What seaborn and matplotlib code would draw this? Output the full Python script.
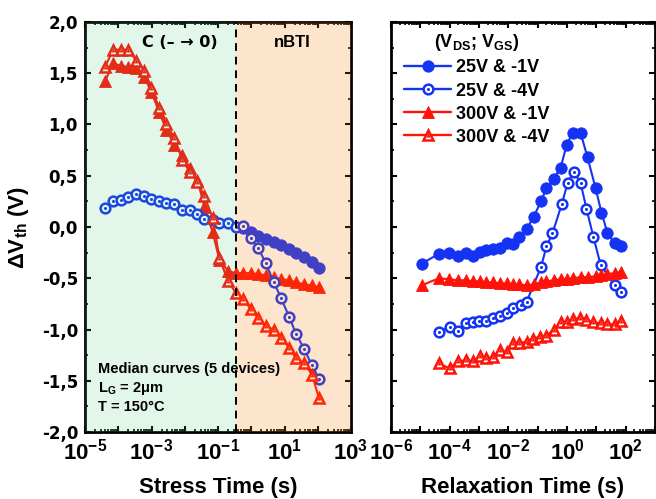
import numpy as np
import matplotlib
matplotlib.use("Agg")
import matplotlib.pyplot as plt
import seaborn as sns
from matplotlib.lines import Line2D
from matplotlib.ticker import (LogLocator, MultipleLocator, FuncFormatter,
                               NullFormatter)

sns.set_theme(style="ticks")
plt.rcParams["font.family"] = ["Liberation Sans", "DejaVu Sans"]
plt.rcParams["font.weight"] = "bold"
plt.rcParams["axes.labelweight"] = "bold"
plt.rcParams["mathtext.default"] = "regular"
plt.rcParams["axes.unicode_minus"] = False
for key in ["axes.edgecolor", "xtick.color", "ytick.color", "text.color",
            "axes.labelcolor"]:
    plt.rcParams[key] = "black"

# ---------------- stress phase (C(- -> 0) then nBTI) ----------------
stress_time = [4.0e-5, 7.0e-5, 1.2e-4, 2.0e-4, 3.5e-4, 6.1e-4, 9.9e-4, 1.7e-3,
               2.8e-3, 4.9e-3, 8.5e-3, 1.4e-2, 2.4e-2, 3.9e-2, 6.9e-2, 0.11,
               0.20, 0.34, 0.55, 0.97, 1.6, 2.7, 4.8, 7.8, 14, 22, 39, 67, 109]
stress_time_25v_1v = [0.55, 0.97, 1.6, 2.7, 4.8, 7.8, 14, 22, 39, 67, 109]

stress_25v_1v = [-0.01, -0.05, -0.09, -0.12, -0.15, -0.18, -0.21, -0.25,
                 -0.29, -0.34, -0.40]
stress_25v_4v = [0.19, 0.25, 0.26, 0.29, 0.32, 0.30, 0.27, 0.25, 0.23, 0.22,
                 0.17, 0.17, 0.13, 0.08, 0.07, 0.04, 0.04, 0.00, 0.01, -0.11,
                 -0.20, -0.35, -0.54, -0.69, -0.88, -1.04, -1.19, -1.35, -1.48]
stress_300v_1v = [1.42, 1.60, 1.57, 1.56, 1.55, 1.46, 1.32, 1.12, 0.95, 0.80,
                  0.70, 0.58, 0.46, 0.20, -0.05, -0.32, -0.43, -0.45, -0.45,
                  -0.45, -0.46, -0.47, -0.49, -0.51, -0.52, -0.54, -0.56,
                  -0.57, -0.59]
stress_300v_4v = [1.56, 1.73, 1.73, 1.73, 1.62, 1.52, 1.36, 1.16, 1.00, 0.87,
                  0.65, 0.54, 0.44, 0.30, 0.09, -0.30, -0.53, -0.64, -0.70,
                  -0.80, -0.89, -0.97, -1.00, -1.08, -1.18, -1.28, -1.33,
                  -1.44, -1.67]
phase_boundary = 0.35  # s, end of the C(- -> 0) phase

# ---------------- relaxation phase ----------------
relax_time = [1.1e-5, 4.3e-5, 9.4e-5, 1.9e-4, 3.6e-4, 6.2e-4, 1.1e-3, 1.8e-3,
              2.9e-3, 5.1e-3, 8.8e-3, 1.5e-2, 2.4e-2, 4.2e-2, 7.3e-2, 0.13,
              0.20, 0.35, 0.61, 0.97, 1.55, 2.9, 5.0, 9.4, 15, 24, 42, 72]
relax_time_25v_4v = [4.3e-5, 1.0e-4, 1.9e-4, 3.6e-4, 6.2e-4, 1.0e-3, 1.8e-3,
                     2.9e-3, 5.1e-3, 8.8e-3, 1.5e-2, 2.6e-2, 4.2e-2, 0.13,
                     0.20, 0.32, 0.66, 1.05, 1.7, 2.9, 4.6, 8.0, 14, 42, 72]
relax_time_300v_4v = [4.3e-5, 1.0e-4, 1.9e-4, 3.6e-4, 6.2e-4, 1.1e-3, 1.8e-3,
                      3.0e-3, 5.2e-3, 8.8e-3, 1.5e-2, 2.4e-2, 4.2e-2, 6.8e-2,
                      0.12, 0.20, 0.35, 0.61, 0.97, 1.55, 2.7, 4.6, 8.0, 14,
                      24, 42, 72]

relax_25v_1v = [-0.36, -0.26, -0.25, -0.28, -0.25, -0.28, -0.24, -0.22, -0.21,
                -0.20, -0.16, -0.17, -0.10, -0.02, 0.10, 0.25, 0.38, 0.47,
                0.58, 0.80, 0.92, 0.92, 0.68, 0.38, 0.14, -0.06, -0.16, -0.19]
relax_25v_4v = [-1.02, -0.98, -1.01, -0.94, -0.93, -0.92, -0.92, -0.89, -0.87,
                -0.84, -0.79, -0.76, -0.73, -0.39, -0.19, -0.06, 0.22, 0.43,
                0.54, 0.43, 0.18, -0.10, -0.37, -0.57, -0.63]
relax_300v_1v = [-0.57, -0.50, -0.51, -0.52, -0.52, -0.53, -0.53, -0.54, -0.54,
                 -0.55, -0.55, -0.56, -0.56, -0.57, -0.56, -0.54, -0.53, -0.52,
                 -0.51, -0.51, -0.50, -0.49, -0.49, -0.48, -0.47, -0.46,
                 -0.45, -0.44]
relax_300v_4v = [-1.33, -1.38, -1.31, -1.30, -1.31, -1.26, -1.28, -1.27, -1.20,
                 -1.22, -1.13, -1.13, -1.12, -1.09, -1.07, -1.06, -1.00, -0.93,
                 -0.93, -0.90, -0.89, -0.91, -0.93, -0.94, -0.95, -0.95,
                 -0.92]

series_labels = ["25V & -1V", "25V & -4V", "300V & -1V", "300V & -4V"]
BLUE = "#1433f5"
RED = "#ff1208"
LINE_W = 1.5
styles = [  # color, marker, filled, marker size
    (BLUE, "o", True, 8.2),
    (BLUE, "o", False, 7.0),
    (RED, "^", True, 8.8),
    (RED, "^", False, 7.6),
]


def draw_series(ax, t, v, style, z):
    color, marker, filled, ms = style
    sns.lineplot(x=t, y=v, ax=ax, color=color, linewidth=LINE_W, marker=marker,
                 markersize=ms,
                 markerfacecolor=color if filled else "white",
                 markeredgecolor=color, markeredgewidth=0.6 if filled else 1.8,
                 estimator=None, sort=False, legend=False, zorder=z)
    if not filled:
        sns.scatterplot(x=t, y=v, ax=ax, color=color, marker=marker,
                        s=5 if marker == "o" else 8, linewidth=0,
                        legend=False, zorder=z + 0.5)


fig = plt.figure(figsize=(6.56, 4.99), dpi=100)
ax1 = fig.add_axes([85 / 656, 67 / 499, 266 / 656, 410 / 499])
ax2 = fig.add_axes([391 / 656, 67 / 499, 264 / 656, 410 / 499])

# stress panel
draw_series(ax1, stress_time_25v_1v, stress_25v_1v, styles[0], 2)
draw_series(ax1, stress_time, stress_300v_1v, styles[2], 3)
draw_series(ax1, stress_time, stress_25v_4v, styles[1], 4)
draw_series(ax1, stress_time, stress_300v_4v, styles[3], 5)

ax1.axvspan(1e-5, phase_boundary, color=(62 / 255, 195 / 255, 115 / 255),
            alpha=0.15, lw=0, zorder=8)
ax1.axvspan(phase_boundary, 1e3, color=(245 / 255, 120 / 255, 0),
            alpha=0.2, lw=0, zorder=8)
ax1.axvline(phase_boundary, color="black", lw=1.4, ls=(0, (4, 3)), zorder=9)

ax1.text(0.357, 0.951, "C (– → 0)", transform=ax1.transAxes, ha="center",
         va="center", fontsize=11.5, fontweight="bold", zorder=10,
         family=["DejaVu Sans"])
ax1.text(0.778, 0.951, "nBTI", transform=ax1.transAxes, ha="center",
         va="center", fontsize=12, fontweight="bold", zorder=10)
for ty, txt in [(0.154, "Median curves (5 devices)"),
                (0.105, "L$_G$ = 2μm"),
                (0.061, "T = 150°C")]:
    ax1.text(0.049, ty, txt, transform=ax1.transAxes, ha="left", va="center",
             fontsize=10.5, fontweight="bold", zorder=10)

# relaxation panel
draw_series(ax2, relax_time, relax_25v_1v, styles[0], 2)
draw_series(ax2, relax_time_25v_4v, relax_25v_4v, styles[1], 3)
draw_series(ax2, relax_time, relax_300v_1v, styles[2], 4)
draw_series(ax2, relax_time_300v_4v, relax_300v_4v, styles[3], 5)


def decade_formatter(parity):
    def fmt(val, pos):
        e = int(round(np.log10(val)))
        return r"$10^{%d}$" % e if e % 2 == parity else ""
    return FuncFormatter(fmt)


for ax, xlim, parity, xlabel in [(ax1, (1e-5, 1e3), 1, "Stress Time (s)"),
                                 (ax2, (1e-6, 1e3), 0, "Relaxation Time (s)")]:
    ax.set_xscale("log")
    ax.set_xlim(*xlim)
    ax.set_ylim(-2, 2)
    ax.xaxis.set_major_locator(LogLocator(base=10, numticks=20))
    ax.xaxis.set_minor_locator(LogLocator(base=10, subs=np.arange(2, 10),
                                          numticks=20))
    ax.xaxis.set_major_formatter(decade_formatter(parity))
    ax.xaxis.set_minor_formatter(NullFormatter())
    ax.yaxis.set_major_locator(MultipleLocator(0.5))
    ax.yaxis.set_minor_locator(MultipleLocator(0.25))
    ax.tick_params(which="both", direction="in", top=True, right=True,
                   color="black")
    ax.tick_params(which="major", length=4.5, width=1.5, labelsize=16, pad=5)
    ax.tick_params(which="minor", length=2.5, width=1.2)
    for sp in ax.spines.values():
        sp.set_linewidth(2.0)
        sp.set_color("black")
    ax.set_xlabel(xlabel, fontsize=16, fontweight="bold", labelpad=8.5)
    for lbl in ax.get_xticklabels():
        lbl.set_fontweight("bold")

ax1.yaxis.set_major_formatter(
    FuncFormatter(lambda v, p: f"{v:.1f}".replace(".", ",")))
for lbl in ax1.get_yticklabels():
    lbl.set_fontfamily("DejaVu Sans")
    lbl.set_fontweight("bold")
    lbl.set_fontsize(12)
ax1.set_ylabel("ΔV$_{th}$ (V)", fontsize=16, fontweight="bold", labelpad=8)
ax2.set_ylabel("")
ax2.yaxis.set_major_formatter(NullFormatter())

# legend keys
handles = []
for color, marker, filled, ms in styles:
    key = Line2D([], [], color=color, lw=LINE_W + 0.2, marker=marker,
                 markersize=ms,
                 markerfacecolor=color if filled else "white",
                 markeredgecolor=color, markeredgewidth=0.6 if filled else 1.8)
    if filled:
        handles.append(key)
    else:
        dot = Line2D([], [], ls="none", color=color, marker=marker,
                     markersize=2.2 if marker == "o" else 3.0,
                     markeredgewidth=0)
        handles.append((key, dot))
ax2.legend(handles, series_labels, title="(V$_{DS}$; V$_{GS}$)",
           loc="upper left", bbox_to_anchor=(0.05, 0.975), frameon=False,
           fontsize=13, title_fontproperties={"weight": "bold", "size": 13},
           handlelength=2.6, handletextpad=0.25, labelspacing=0.34,
           borderaxespad=0, borderpad=0)

fig.savefig("out.png", dpi=100)
